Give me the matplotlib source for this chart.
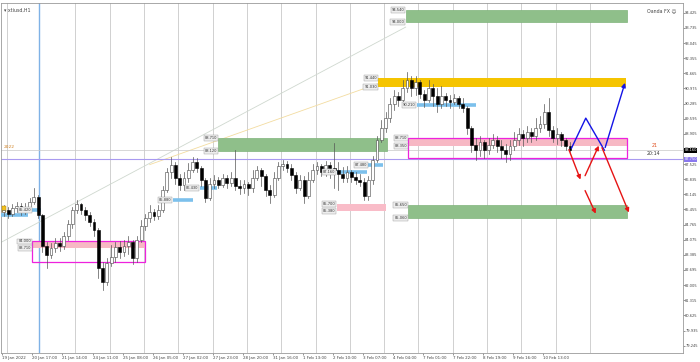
import numpy as np
import matplotlib.pyplot as plt
from matplotlib.patches import Rectangle

# H1 candles grouped by 3 bars (close, high, low); open = previous close
first_open = 85.33
closes = [85.42, 85.24, 85.52, 85.61, 85.42, 85.56, 85.79, 86.02, 85.20, 83.78,
          83.37, 83.69, 83.92, 83.78, 84.24, 84.79, 85.42, 85.70, 85.42, 85.20,
          84.88, 84.51, 82.78, 82.14, 83.01, 83.28, 83.74, 83.51, 83.78, 83.96,
          83.24, 84.06, 84.69, 85.06, 85.33, 85.15, 85.42, 86.34, 87.16, 87.48,
          86.88, 86.56, 86.88, 87.25, 87.61, 87.34, 86.79, 85.97, 86.61, 86.79,
          86.56, 86.88, 86.66, 86.88, 86.52, 86.43, 86.61, 86.43, 86.88, 87.25,
          86.97, 86.34, 86.11, 86.88, 87.43, 87.52, 87.34, 87.02, 86.43, 86.79,
          86.06, 86.79, 87.25, 87.43, 87.16, 87.48, 87.34, 87.25, 87.07, 86.88,
          87.16, 86.93, 86.79, 86.70, 86.06, 86.79, 87.70, 88.62, 89.16, 89.62,
          90.26, 90.62, 90.44, 90.99, 91.35, 90.99, 91.26, 90.71, 90.44, 90.99,
          90.62, 90.26, 90.62, 90.44, 90.35, 90.53, 90.26, 90.08, 89.16, 88.39,
          88.16, 88.52, 88.16, 88.39, 88.62, 88.34, 88.16, 87.98, 88.34, 88.62,
          88.89, 88.71, 88.98, 88.80, 89.16, 89.35, 89.89, 89.07, 88.71, 88.89,
          88.62, 88.34, 88.16]
highs = [85.65, 85.56, 85.70, 85.79, 85.74, 85.74, 85.97, 86.43, 86.11, 85.24,
         83.96, 83.92, 84.15, 84.15, 84.42, 84.97, 85.56, 85.88, 85.74, 85.56,
         85.33, 85.01, 84.60, 83.05, 83.24, 83.83, 83.96, 84.01, 84.06, 84.24,
         84.06, 84.24, 84.97, 85.24, 85.65, 85.47, 85.65, 86.52, 87.34, 87.84,
         87.61, 87.07, 87.16, 87.57, 87.84, 87.80, 87.43, 86.88, 86.88, 87.02,
         86.93, 87.07, 87.02, 87.16, 88.16, 86.79, 86.79, 86.70, 87.25, 87.43,
         87.34, 87.07, 86.56, 87.16, 87.61, 87.70, 87.66, 87.52, 87.16, 87.02,
         86.97, 87.16, 87.52, 87.61, 87.52, 87.66, 87.61, 88.48, 87.61, 87.38,
         87.43, 87.25, 87.16, 87.07, 86.88, 86.97, 87.89, 88.80, 89.53, 89.89,
         90.53, 90.90, 90.80, 91.35, 91.72, 91.53, 91.53, 91.35, 90.90, 91.35,
         91.17, 90.99, 91.08, 90.76, 90.67, 90.71, 90.62, 90.53, 90.17, 89.25,
         88.71, 88.80, 88.62, 88.71, 88.89, 88.80, 88.62, 88.43, 88.62, 88.98,
         89.16, 89.07, 89.25, 89.16, 89.62, 89.71, 90.26, 90.53, 89.25, 89.16,
         88.98, 88.71, 88.52]
lows = [85.15, 85.06, 85.15, 85.33, 85.20, 85.24, 85.42, 85.70, 85.06, 83.51,
        82.78, 83.24, 83.51, 83.55, 83.65, 84.06, 84.60, 85.29, 85.24, 84.97,
        84.69, 84.24, 82.32, 81.78, 82.00, 82.87, 83.05, 83.24, 83.33, 83.42,
        82.96, 83.05, 83.96, 84.51, 84.88, 84.97, 85.01, 85.33, 86.24, 86.88,
        86.61, 86.34, 86.34, 86.70, 87.16, 87.16, 86.52, 85.79, 85.88, 86.43,
        86.43, 86.47, 86.43, 86.52, 86.34, 86.15, 86.20, 86.11, 86.24, 86.79,
        86.52, 86.06, 85.74, 86.02, 86.79, 87.25, 87.16, 86.79, 86.20, 86.34,
        85.74, 85.97, 86.70, 87.07, 86.97, 86.97, 86.88, 86.43, 86.34, 86.70,
        86.70, 86.70, 86.61, 86.52, 85.88, 85.88, 86.61, 87.61, 88.52, 88.98,
        89.44, 89.98, 90.17, 90.35, 90.80, 90.62, 90.67, 90.53, 90.12, 90.35,
        90.17, 89.89, 90.08, 90.17, 90.08, 90.26, 90.08, 89.89, 88.89, 88.07,
        87.70, 87.89, 87.80, 87.98, 88.25, 88.07, 87.80, 87.61, 87.70, 88.16,
        88.39, 88.34, 88.52, 88.52, 88.62, 88.98, 89.16, 88.80, 88.52, 88.43,
        88.34, 88.16, 88.07]

xlabels = ["19 Jan 2022", "20 Jan 17:00", "21 Jan 14:00", "24 Jan 11:00", "25 Jan 08:00",
           "26 Jan 05:00", "27 Jan 02:00", "27 Jan 23:00", "28 Jan 20:00", "31 Jan 16:00",
           "1 Feb 13:00", "2 Feb 10:00", "3 Feb 07:00", "4 Feb 04:00", "7 Feb 01:00",
           "7 Feb 22:00", "8 Feb 19:00", "9 Feb 16:00", "10 Feb 13:00"]
yticks = [94.425 - 0.69 * k for k in range(23)]

# zones: (bar start, bar end, top, bottom)
green_zones = [(282, 437, 94.54, 94.00), (151, 269, 88.71, 88.12), (284, 437, 85.65, 85.06)]
yellow_zone = (263, 436, 91.44, 91.03)
pink_boxes = [(21, 100, 84.00, 83.71, 83.07), (284, 437, 88.71, 88.35, 87.80)]
pink_small = (234, 268, 85.70, 85.38)
blue_levels = [(-2, 18, 85.20), (21, 27, 85.42), (119, 133, 85.88), (138, 150, 86.43),
               (234, 255, 87.16), (256, 266, 87.48), (290, 331, 90.21)]
purple_level = 87.75

fig = plt.figure(figsize=(7, 3.62), dpi=100)
ax = fig.add_axes([1/700, 9/362, 682/700, 350/362])
ax.set_xlim(-1, 476)
ax.set_ylim(78.91, 94.87)

# day separators
for k in range(18):
    if k == 1:
        continue
    ax.axvline(3 + 24 * k, color='#d0d0d0', lw=0.7, zorder=0)
ax.axvline(25.6, color='#7fb2e6', lw=1.0, zorder=1)

# trend lines
ax.plot([-2, 282], [83.92, 93.77], color='#cfd8cf', lw=0.6, zorder=1)
ax.plot([103, 263], [87.50, 91.20], color='#f3dca0', lw=0.6, zorder=1)

ax.axhline(purple_level, color='#a99af0', lw=0.8, zorder=1)

lab_box = dict(facecolor='#eeeeee', edgecolor='#999999', lw=0.3, pad=0.6)

def zone_labels(x, top, bottom):
    for v in (top, bottom):
        ax.text(x - 1, v, f"{v:.3f}", fontsize=2.6, ha='right', va='center', color='#333',
                bbox=lab_box, zorder=6)

for x0, x1, t, b in green_zones:
    ax.add_patch(Rectangle((x0, b), x1 - x0, t - b, facecolor='#8fbf8a', edgecolor='#7fb37a', lw=0.5, zorder=2))
    zone_labels(x0, t, b)

x0, x1, t, b = yellow_zone
ax.add_patch(Rectangle((x0, b), x1 - x0, t - b, facecolor='#f5c400', edgecolor='none', zorder=2))
zone_labels(x0, t, b)

for x0, x1, t, m, b in pink_boxes:
    ax.add_patch(Rectangle((x0, m), x1 - x0, t - m, facecolor='#f7b8c4', edgecolor='none', zorder=2))
    ax.add_patch(Rectangle((x0, b), x1 - x0, t - b, facecolor='none', edgecolor='#ee22dd', lw=0.9, zorder=3))
    zone_labels(x0, t, m)

x0, x1, t, b = pink_small
ax.add_patch(Rectangle((x0, b), x1 - x0, t - b, facecolor='#f9bcc8', edgecolor='none', zorder=2))
zone_labels(x0, t, b)

for x0, x1, v in blue_levels:
    ax.plot([x0, x1], [v, v], color='#7cc0ec', lw=2.6, solid_capstyle='butt', zorder=3)
    if x0 > 20:
        ax.text(x0 - 1, v, f"{v:.3f}", fontsize=2.6, ha='right', va='center', color='#333',
                bbox=lab_box, zorder=6)

ax.add_patch(Rectangle((-0.5, 85.33), 3.2, 0.3, facecolor='#f0c020', edgecolor='#b08000', lw=0.3, zorder=5))

# candles
opens = [first_open] + closes[:-1]
xs = np.arange(len(closes)) * 3 + 1
for x, o, h, l, c in zip(xs, opens, highs, lows, closes):
    ax.plot([x, x], [l, h], color='#555555', lw=0.5, zorder=4)
    if c >= o:
        ax.add_patch(Rectangle((x - 1.0, o), 2.0, max(c - o, 0.02), facecolor='white',
                               edgecolor='#444444', lw=0.4, zorder=5))
    else:
        ax.add_patch(Rectangle((x - 1.0, c), 2.0, o - c, facecolor='black',
                               edgecolor='black', lw=0.4, zorder=5))

last = closes[-1]
ax.axhline(last, color='#c8c8c8', lw=0.5, zorder=1)

# projections
ax.plot([398, 408, 421], [88.25, 89.62, 88.16], color='#1414e6', lw=1.0, zorder=7)
ax.annotate('', xy=(436, 91.35), xytext=(421, 88.16),
            arrowprops=dict(arrowstyle='-|>', color='#1414e6', lw=1.0, mutation_scale=6), zorder=7)
red_paths = [((395.5, 88.30), (405, 86.70)), ((406.7, 86.43), (415.8, 85.15)),
             ((406.7, 86.88), (417.9, 88.48)), ((418.6, 88.39), (438.9, 85.20))]
for (xa, ya), (xb, yb) in red_paths:
    ax.annotate('', xy=(xb, yb), xytext=(xa, ya),
                arrowprops=dict(arrowstyle='-|>', color='#e61414', lw=1.0, mutation_scale=6), zorder=7)

# axes styling
for s in ax.spines.values():
    s.set_color('#9a9a9a')
    s.set_linewidth(0.6)
ax.yaxis.tick_right()
ax.set_yticks(yticks)
ax.set_yticklabels([f"{v:.3f}" for v in yticks])
ax.set_xticks(np.arange(len(xlabels)) * 21)
ax.set_xticklabels(xlabels, ha='left')
ax.tick_params(axis='x', labelsize=2.9, length=1.5, width=0.4, colors='#444444', pad=0.6)
ax.tick_params(axis='y', labelsize=2.6, length=1.2, width=0.4, colors='#444444', pad=0.4)

side_labels = [(last, 'black'), (purple_level, '#8a78ee')]
for v, col in side_labels:
    ax.text(1.002, v, f"{v:.3f}", transform=ax.get_yaxis_transform(), fontsize=2.6, color='white',
            va='center', ha='left', bbox=dict(facecolor=col, edgecolor='none', pad=0.3), zorder=10,
            clip_on=False)
ax.text(458, 88.35, '21', fontsize=3.4, color='#e05020', ha='right', va='center', zorder=8)
ax.text(460, 88.02, '20:14', fontsize=3.4, color='#333333', ha='right', va='center', zorder=8)
ax.text(1, 88.30, '2022', fontsize=3.2, color='#d08020', ha='left', va='center', zorder=8)

ax.text(0.004, 0.985, '\u25be xtiusd,H1', transform=ax.transAxes, fontsize=3.4, color='#444444',
        ha='left', va='top')
ax.text(0.99, 0.985, 'Oanda FX \u263a', transform=ax.transAxes, fontsize=3.4, color='#444444',
        ha='right', va='top')

fig.savefig('out.png', dpi=100)
